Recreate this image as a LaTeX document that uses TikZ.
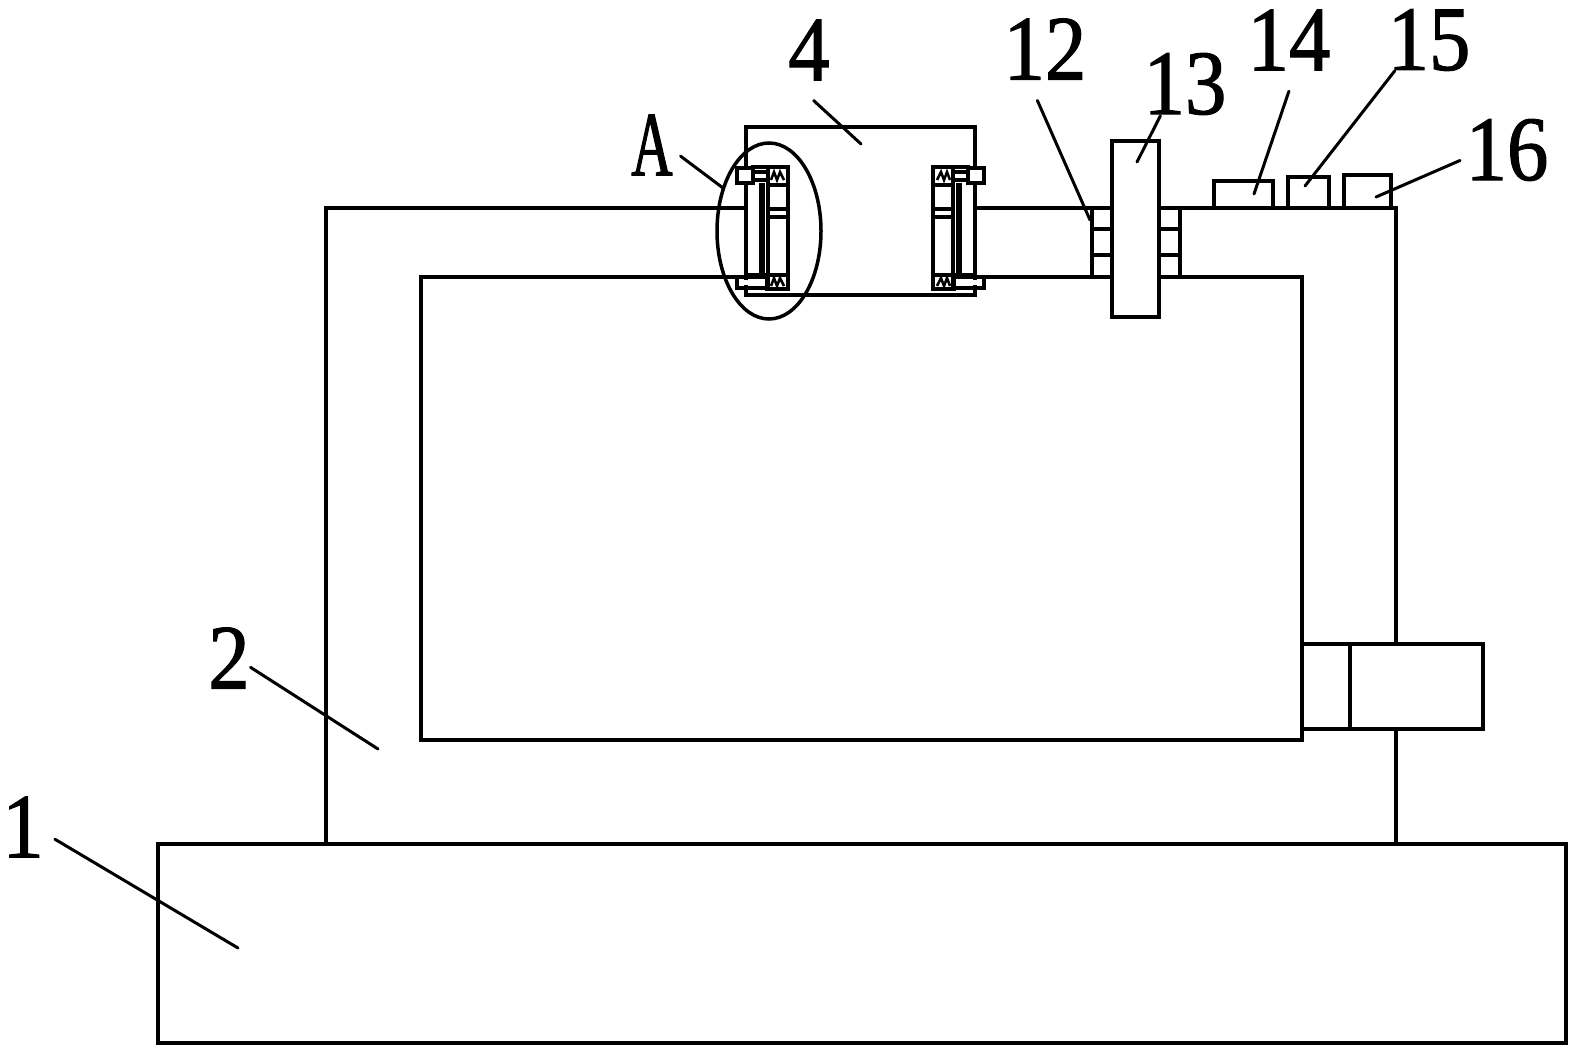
\documentclass[tikz,border=0pt]{standalone}
\usepackage{fontspec}
\setmainfont[FakeStretch=0.9,FakeBold=1.2]{Liberation Serif}
\newfontfamily\letterfont[FakeStretch=0.62,FakeBold=1.2]{Liberation Serif}
\usepackage{tikz}
\tikzset{%
  % all parts share one pen
  part/.style={draw, line width=4pt, line cap=rect, line join=miter},
  thinpart/.style={draw, line width=3.5pt},
  leader/.style={draw, line width=3pt, line cap=round},
  % reference numbers
  partlabel/.style={inner sep=0pt, outer sep=0pt, font=\fontsize{92}{92}\selectfont},
  % spring inside the clamp
  spring/.style={draw, line width=2.5pt, line join=miter},
}
\begin{document}
\begin{tikzpicture}[x=1pt, y=-1pt]
  \useasboundingbox (0,0) rectangle (1577,1051);

  % base and frame
  \path[part] (158,844) rectangle (1566,1043);
  \path[part] (326,844) -- (326,208) -- (746,208);
  \path[part] (975,208) -- (1112,208);
  \path[part] (1159,208) -- (1396,208) -- (1396,644);
  \path[part] (1396,729) -- (1396,844);

  % inner opening
  \path[part] (746,277) -- (421,277) -- (421,740) -- (1302,740) -- (1302,277) -- (1159,277);
  \path[part] (1112,277) -- (975,277);

  % motor
  \path[part] (1302,644) rectangle (1483,729);
  \path[part] (1350,644) -- (1350,729);

  % slider box
  \path[part] (746,167) -- (746,127) -- (975,127) -- (975,167);
  \path[part] (746,287) -- (746,295) -- (975,295) -- (975,287);

  % clamps, the right one is the mirror image
  \foreach \s/\o in {1/0, -1/1721} {
    \begin{scope}[xshift=\o, xscale=\s]
      \path[part] (753,167) -- (788,167) -- (788,289) -- (767,289);
      \path[thinpart] (737,168) rectangle (753,183);
      \path[part] (746,183) -- (746,278);
      \path[thinpart] (737,277) rectangle (767,288);
      \path[draw, line width=6pt] (762,183) -- (762,278);
      \path[thinpart] (768,167) -- (768,289);
      \path[thinpart] (753,172) -- (768,172);
      \path[thinpart] (755,180) -- (768,180);
      \path[thinpart] (768,185) -- (788,185);
      \path[thinpart] (768,209) -- (788,209);
      \path[thinpart] (768,217) -- (788,217);
      \path[thinpart] (746,275) -- (788,275);
      \foreach \y in {172,278} {
        \path[spring] (771,\y+8) -- (774,\y) -- (777,\y+8) -- (780,\y) -- (784,\y+8);
      }
    \end{scope}
  }

  % detail circle
  \path[draw, line width=3.5pt] (769,231) ellipse [x radius=52, y radius=88];

  % crank and collars
  \path[part] (1112,141) rectangle (1159,317);
  \foreach \x/\w in {1092/1112, 1159/1180} {
    \path[thinpart] (\x,208) rectangle (\w,277);
    \path[thinpart] (\x,229) -- (\w,229);
    \path[thinpart] (\x,255) -- (\w,255);
  }

  % buttons on top
  \path[part] (1214,208) -- (1214,181) -- (1273,181) -- (1273,208);
  \path[part] (1288,208) -- (1288,177) -- (1329,177) -- (1329,208);
  \path[part] (1344,208) -- (1344,175) -- (1391,175) -- (1391,208);

  % reference numbers
  \node[partlabel] (lab1) at (23,827) {1};
  \node[partlabel] (lab2) at (229,658) {2};
  \node[partlabel] (lab4) at (809,50) {4};
  \node[partlabel, font=\fontsize{92}{92}\letterfont] (labA) at (652,145) {A};
  \node[partlabel] (lab12) at (1045,49) {12};
  \node[partlabel] (lab13) at (1185,84) {13};
  \node[partlabel] (lab14) at (1289,40) {14};
  \node[partlabel] (lab15) at (1429,40) {15};
  \node[partlabel] (lab16) at (1507,150) {16};

  \coordinate (tip1) at (238,948);
  \coordinate (tip2) at (378,749);
  \coordinate (tip4) at (861,144);
  \coordinate (tipA) at (723,188);
  \coordinate (tip12) at (1090,220);
  \coordinate (tip13) at (1137,162);
  \coordinate (tip14) at (1254,194);
  \coordinate (tip15) at (1305,186);
  \coordinate (tip16) at (1376,197);

  % leaders: label, border angle, gap
  \foreach \n/\a/\g in {1/-15/13, 2/-23/1, 4/-120/30, A/-14/10, 12/-119/23, 13/-128/1, 14/-77/22, 15/-138/0, 16/-169/6} {
    \path[leader, shorten <=\g pt] (lab\n.\a) -- (tip\n);
  }
\end{tikzpicture}
\end{document}
